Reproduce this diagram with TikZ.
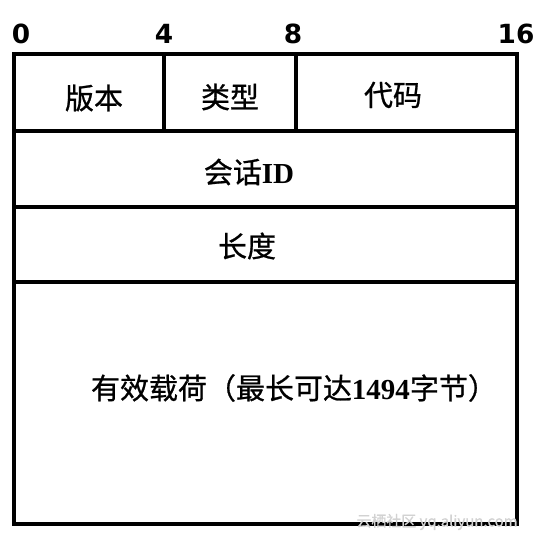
\documentclass[tikz,border=0pt]{standalone}
\usepackage{fontspec}
\setmainfont{Liberation Serif}
\newfontfamily\cjk[FakeBold=0.8]{Noto Sans CJK SC}
\newfontfamily\bitfont{DejaVu Sans}
\tikzset{
  box/.style={line width=2pt},
  field/.style={font=\cjk\fontsize{16.5}{19}\selectfont},
  bitlabel/.style={font=\bitfont\bfseries\fontsize{15}{18}\selectfont},
  mark water/.style={font=\cjk\fontsize{8.5}{10}\selectfont, text=gray!35}
}
\begin{document}
\begin{tikzpicture}
        \useasboundingbox (0,0) rectangle (10.84,10.84);

        % Bit offsets above the header
        \node[bitlabel] (b0) at (0.42,10.17) {0};
        \node[bitlabel] (b4) at (3.28,10.17) {4};
        \node[bitlabel] (b8) at (5.86,10.17) {8};
        \node[bitlabel] (b16) at (10.32,10.17) {16};

        % Draw first row: three fields
        \draw[box] (0.28,8.22) rectangle (3.28,9.76); % version
        \draw[box] (3.28,8.22) rectangle (5.92,9.76); % type
        \draw[box] (5.92,8.22) rectangle (10.34,9.76); % code
        \node[field] (version) at (1.88,8.88) {版本};
        \node[field] (type) at (4.60,8.90) {类型};
        \node[field] (code) at (7.86,8.94) {代码};

        % Draw session ID row
        \draw[box] (0.28,6.70) rectangle (10.34,8.22); % session
        \node[field] (session) at (4.98,7.40) {会话{\rmfamily\bfseries ID}};

        % Draw length row
        \draw[box] (0.28,5.20) rectangle (10.34,6.70); % length
        \node[field] (length) at (4.94,5.92) {长度};

        % Draw payload area
        \draw[box] (0.28,0.36) rectangle (10.34,5.20); % payload
        \node[field] (payload) at (5.88,3.08) {有效载荷（最长可达{\rmfamily\bfseries 1494}字节）};

        % Watermark
        \node[mark water] (water) at (8.74,0.40) {云栖社区 yq.aliyun.com};
      \end{tikzpicture}
\end{document}
